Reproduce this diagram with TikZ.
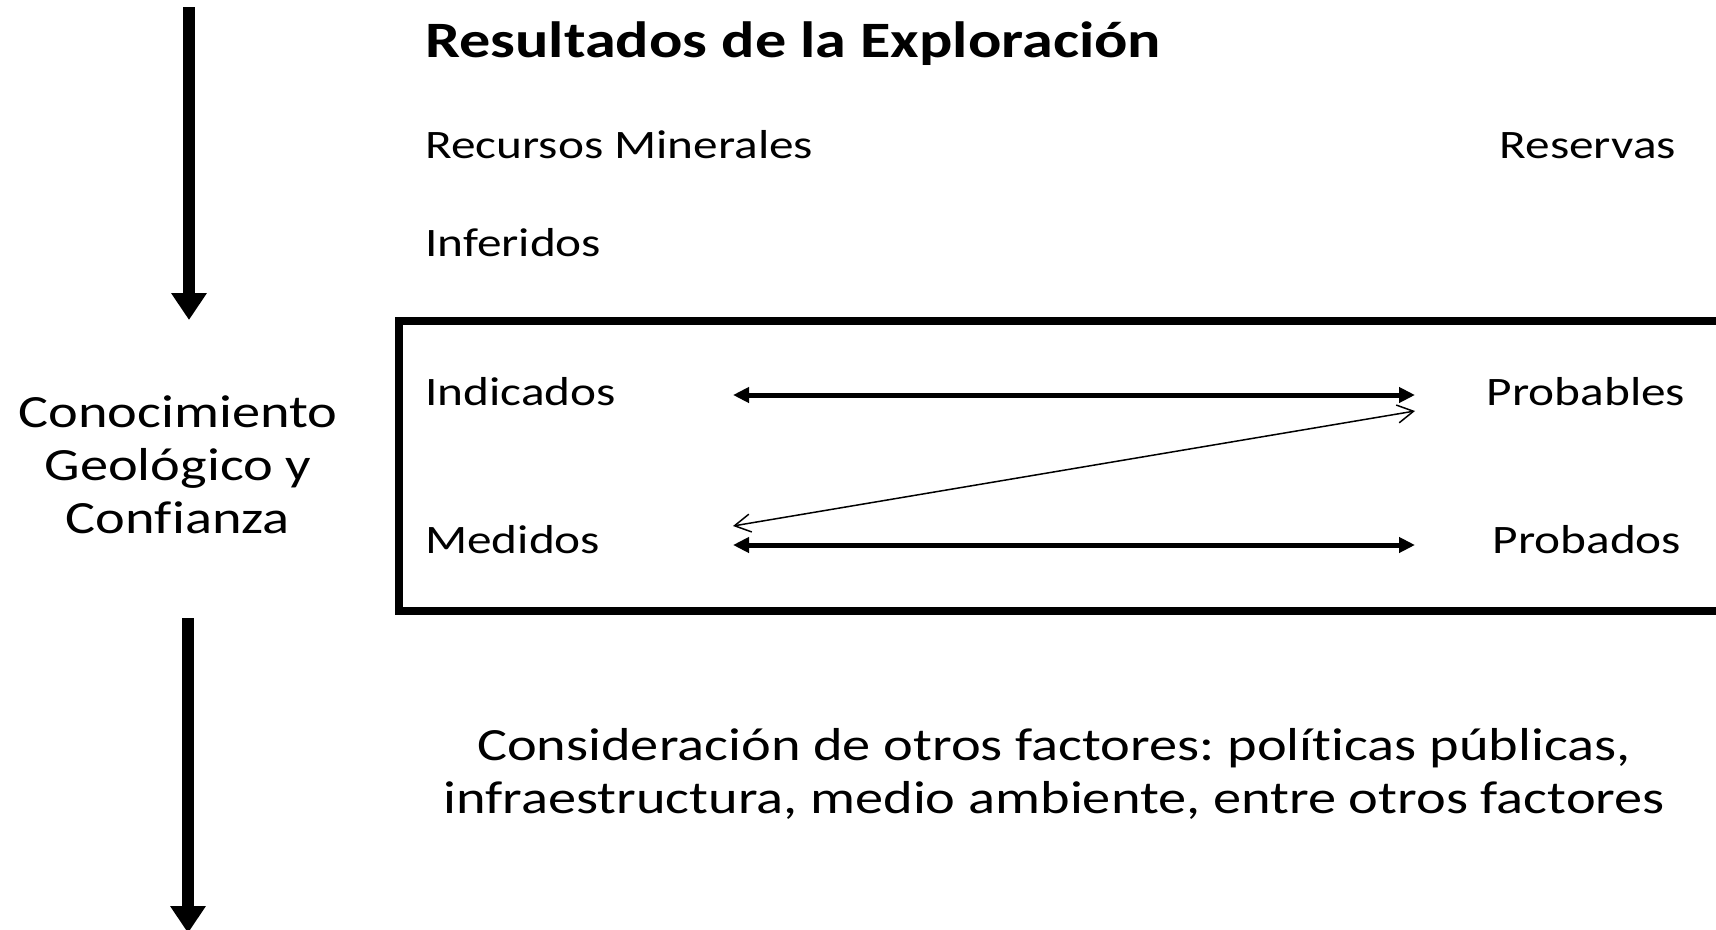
\documentclass[tikz,border=0pt]{standalone}
\usepackage{fontspec}
\setmainfont{Carlito}[FakeStretch=1.22, Ligatures=NoCommon]
\frenchspacing
\usetikzlibrary{arrows.meta, positioning}

\begin{document}
\begin{tikzpicture}[x=1pt, y=-1pt]

\tikzstyle{label}=[inner sep=0, anchor=base west, font=\fontsize{40.4}{48}\selectfont]
\tikzstyle{big}=[inner sep=0, align=center, anchor=base, font=\fontsize{46.2}{53}\selectfont]
\tikzstyle{link}=[line width=5pt, {Triangle[length=16pt,width=15pt]}-{Triangle[length=16pt,width=15pt]}]
\tikzstyle{back}=[line width=1.5pt, {Straight Barb[length=16pt,width=18pt]}-{Straight Barb[length=16pt,width=18pt]}]
\tikzstyle{flow}=[line width=12pt, -{Triangle[length=27pt,width=34pt]}]

\useasboundingbox[fill=white] (0,0) rectangle (1716,929);

\node[label, font=\fontsize{51}{60}\selectfont\bfseries] (title) at (425,57) {Resultados de la Exploración};
\node[label] (rec) at (425,158) {Recursos Minerales};
\node[label, anchor=base east] (res) at (1676,158) {Reservas};
\node[label] (inf) at (425,256) {Inferidos};
\node[label] (ind) at (425,405) {Indicados};
\node[label] (med) at (425,553) {Medidos};
\node[label, anchor=base] (prob) at (1586,405) {Probables};
\node[label, anchor=base] (prov) at (1587,553) {Probados};

% el ancla base queda en la ultima linea
\node[big] (geo) at (178,533) {Conocimiento\\Geológico y\\Confianza};
\node[big] (otros) at (1054,813) {Consideración de otros factores: políticas públicas,\\infraestructura, medio ambiente, entre otros factores};

% marco abierto a la derecha
\draw[line width=8pt] (1730,321) -- (399,321) -- (399,611) -- (1730,611);

% puntas de las flechas
\coordinate (ind-a) at (733,395);
\coordinate (prob-a) at (1415,395);
\coordinate (med-a) at (733,545);
\coordinate (prov-a) at (1415,545);
\coordinate (med-b) at (733,526);
\coordinate (prob-b) at (1415,411);
\coordinate (up-s) at (189,7);
\coordinate (up-e) at (189,320);
\coordinate (down-s) at (188,618);
\coordinate (down-e) at (188,933);

\draw[link] (ind-a) -- (prob-a);
\draw[link] (med-a) -- (prov-a);
\draw[back] (med-b) -- (prob-b);
\draw[flow] (up-s) -- (up-e);
\draw[flow] (down-s) -- (down-e);

\end{tikzpicture}
\end{document}
